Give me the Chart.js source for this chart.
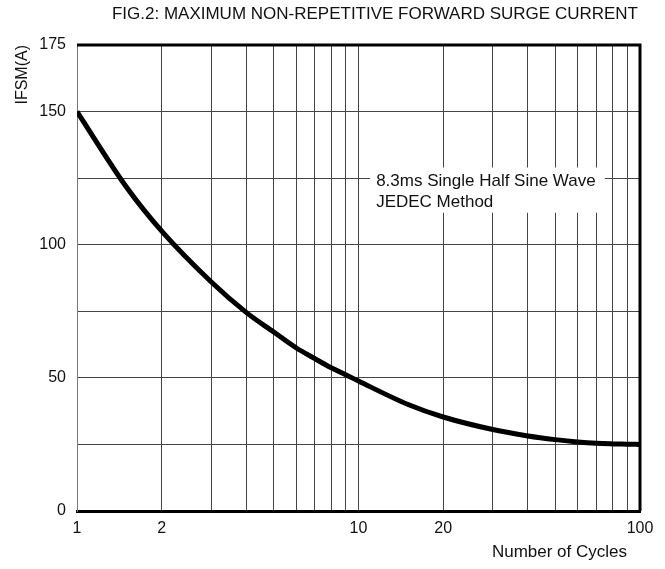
<!DOCTYPE html>
<html>
<head>
<meta charset="utf-8">
<script src="https://cdn.jsdelivr.net/npm/chart.js@4"></script>
<style>
  html, body { margin: 0; padding: 0; background: #fff; }
  #wrap { width: 665px; height: 569px; }
</style>
</head>
<body>
<div id="wrap"><canvas id="chart" width="665" height="569"></canvas></div>
<script>
// surge current vs number of cycles
const cycles = [1, 1.5, 2, 3, 4, 5, 6, 7, 8, 9, 10, 15, 20, 30, 40, 50, 60, 70, 80, 90, 100];
const ifsm   = [150, 121.6, 105.1, 86, 74.5, 67.2, 61.3, 57.2, 53.8, 51.2, 48.8, 40.0, 35.3, 30.6, 28.2, 26.8, 25.9, 25.4, 25.2, 25.1, 25];

const xGridTicks  = [1, 2, 3, 4, 5, 6, 7, 8, 9, 10, 20, 30, 40, 50, 60, 70, 80, 90, 100];
const xTickLabels = [1, 2, 10, 20, 100];
const yTickLabels = [0, 50, 100, 150, 175];
const chartTitle  = 'FIG.2: MAXIMUM NON-REPETITIVE FORWARD SURGE CURRENT';
const xTitle      = 'Number of Cycles';
const noteLines   = ['8.3ms Single Half Sine Wave', 'JEDEC Method'];

const FONT = 'Arial, "Liberation Sans", sans-serif';

// note box, title texts, top/right frame lines
const frame = {
  id: 'frame',
  beforeDatasetsDraw(chart) {
    const { ctx, scales: { x, y } } = chart;
    const left = x.getPixelForValue(11), top = y.getPixelForValue(129);
    const right = x.getPixelForValue(75), bottom = y.getPixelForValue(112);
    ctx.save();
    ctx.fillStyle = '#fff';
    ctx.fillRect(left, top, right - left, bottom - top);
    ctx.fillStyle = '#111';
    ctx.font = '17px ' + FONT;
    ctx.textBaseline = 'middle';
    ctx.fillText(noteLines[0], left + 6, top + 14);
    ctx.fillText(noteLines[1], left + 6, top + 35);
    ctx.restore();
  },
  afterDraw(chart) {
    const { ctx, chartArea: a } = chart;
    ctx.save();
    ctx.strokeStyle = '#000';
    ctx.lineWidth = 3;
    ctx.beginPath();
    ctx.moveTo(a.left, a.top);
    ctx.lineTo(a.right, a.top);
    ctx.lineTo(a.right, a.bottom);
    ctx.stroke();
    ctx.fillStyle = '#111';
    ctx.font = '17px ' + FONT;
    ctx.textAlign = 'right';
    ctx.textBaseline = 'middle';
    ctx.fillText(chartTitle, a.right - 2, 14);
    ctx.fillText(xTitle, a.right - 13, 552);
    ctx.restore();
  }
};

new Chart(document.getElementById('chart'), {
  type: 'line',
  data: {
    datasets: [{
      data: cycles.map((c, i) => ({ x: c, y: ifsm[i] })),
      borderColor: '#000',
      borderWidth: 5,
      pointRadius: 0,
      cubicInterpolationMode: 'monotone',
      fill: false,
    }]
  },
  options: {
    responsive: false,
    animation: false,
    layout: { padding: { left: 0, right: 25, top: 45, bottom: 0 } },
    plugins: {
      legend: { display: false },
      tooltip: { enabled: false },
      title: { display: false },
    },
    scales: {
      x: {
        type: 'logarithmic',
        min: 1, max: 100,
        afterBuildTicks: s => { s.ticks = xGridTicks.map(v => ({ value: v })); },
        afterFit: s => { s.height = 58; },
        ticks: {
          autoSkip: false, maxRotation: 0, padding: 8,
          color: '#111', font: { family: FONT, size: 16 },
          callback: v => xTickLabels.includes(v) ? String(v) : '',
        },
        grid: { color: '#444', lineWidth: 1, drawTicks: false },
        border: { color: '#000', width: 3 },
      },
      y: {
        min: 0, max: 175,
        afterBuildTicks: s => {
          const t = [];
          for (let v = 0; v <= 175; v += 25) t.push({ value: v });
          s.ticks = t;
        },
        afterFit: s => { s.width = 77; },
        ticks: {
          padding: 11, color: '#111', font: { family: FONT, size: 16 },
          callback: v => yTickLabels.includes(v) ? String(v) : '',
        },
        grid: { color: '#444', lineWidth: 1, drawTicks: false },
        border: { color: '#777', width: 1 },
        title: {
          display: true, text: 'IFSM(A)', align: 'end',
          color: '#111', font: { family: FONT, size: 16 },
          padding: { top: 13, bottom: 0 },
        },
      },
    },
  },
  plugins: [frame],
});
</script>
</body>
</html>
